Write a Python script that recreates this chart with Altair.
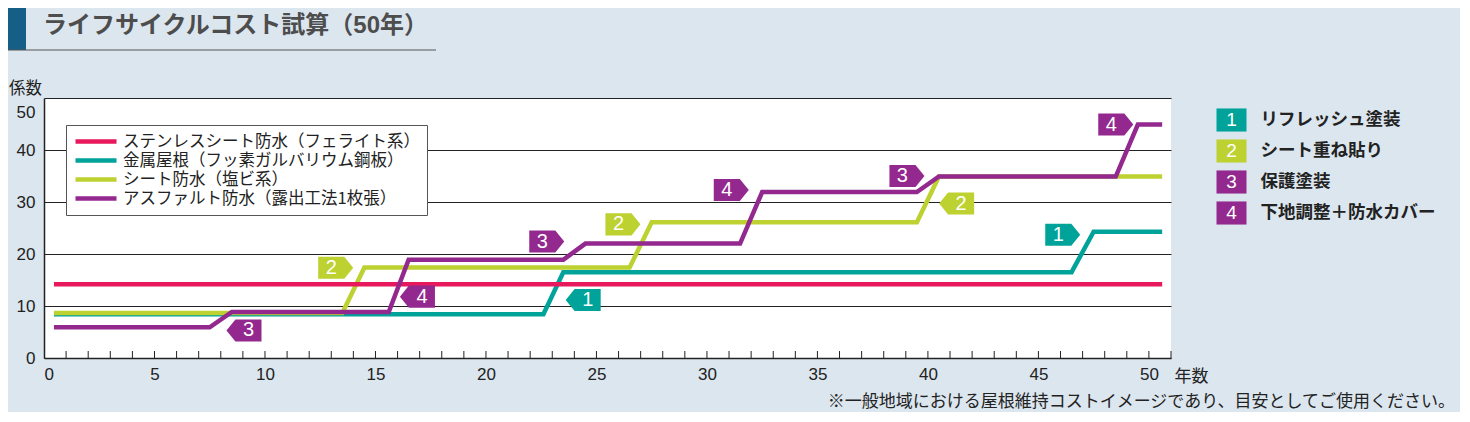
import altair as alt
import pandas as pd

FONT = "Liberation Sans, Noto Sans CJK JP, sans-serif"
JFONT = "Noto Sans CJK JP, sans-serif"

title_text = "ライフサイクルコスト試算（50年）"
y_title = "係数"
x_title = "年数"
footnote = "※一般地域における屋根維持コストイメージであり、目安としてご使用ください。"

series_names = [
    "ステンレスシート防水（フェライト系）",
    "金属屋根（フッ素ガルバリウム鋼板）",
    "シート防水（塩ビ系）",
    "アスファルト防水（露出工法1枚張）",
]
series_colors = ["#E8185D", "#00A39A", "#BDD130", "#93288F"]

# line vertices (year, coefficient)
stainless_x = [0.45, 50.6]
stainless_y = [14.2, 14.2]
metal_x = [0.45, 22.6, 23.5, 46.5, 47.5, 50.6]
metal_y = [8.4, 8.4, 16.5, 16.5, 24.3, 24.3]
sheet_x = [0.45, 13.5, 14.5, 26.5, 27.5, 39.5, 40.5, 50.6]
sheet_y = [8.65, 8.65, 17.4, 17.4, 26.1, 26.1, 34.9, 34.9]
asphalt_x = [0.45, 7.5, 8.5, 15.6, 16.5, 23.5, 24.5, 31.5, 32.5, 39.5, 40.5, 48.5, 49.5, 50.6]
asphalt_y = [5.9, 5.9, 8.85, 8.85, 18.9, 18.9, 22.0, 22.0, 31.9, 31.9, 34.9, 34.9, 44.9, 44.9]

# maintenance tags
tag_num = ["1", "1", "2", "2", "2", "3", "3", "3", "4", "4", "4"]
tag_x = [24.4, 46.1, 13.2, 26.2, 41.3, 9.05, 22.75, 39.05, 16.9, 31.1, 48.5]
tag_y = [11.15, 23.7, 17.35, 25.7, 29.7, 5.3, 22.4, 35.0, 11.8, 32.3, 44.9]
tag_dir = ["left", "right", "right", "right", "left", "left", "right", "right", "left", "right", "right"]

key_nums = ["1", "2", "3", "4"]
key_labels = ["リフレッシュ塗装", "シート重ね貼り", "保護塗装", "下地調整＋防水カバー"]
key_colors = ["#00A39A", "#BDD130", "#93288F", "#93288F"]

x_ticks = list(range(0, 51, 5))
y_ticks = list(range(0, 51, 10))
minor_years = list(range(1, 52))

# ---- data frames
rows = []
order = [(1, metal_x, metal_y), (2, sheet_x, sheet_y), (0, stainless_x, stainless_y), (3, asphalt_x, asphalt_y)]
for si, xs_, ys_ in order:
    for i, (a, b) in enumerate(zip(xs_, ys_)):
        rows.append({"series": series_names[si], "x": a, "y": b, "i": i})
lines_df = pd.DataFrame(rows)
tags_df = pd.DataFrame({"num": tag_num, "x": tag_x, "y": tag_y, "dir": tag_dir})
ticks_df = pd.DataFrame({"x": minor_years})
key_df = pd.DataFrame({"num": key_nums, "label": key_labels})

W, H = 1127, 260

xs = alt.Scale(domain=[0, 51], nice=False, zero=False)
ys = alt.Scale(domain=[0, 50], nice=False)
x_axis = alt.Axis(
    values=x_ticks, ticks=False, grid=False, labelFontSize=17, labelFont=FONT,
    labelColor="#222", labelPadding=8, domainColor="#222", domainWidth=1.5,
    title=x_title, titleX=1147, titleY=18, titleAlign="center", titleBaseline="middle",
    titleFontSize=17, titleFont=JFONT, titleFontWeight="normal", titleColor="#222",
    labelFlush=True,
)
y_axis = alt.Axis(
    values=y_ticks, ticks=False, grid=True, gridColor="#222", gridWidth=1,
    labelFontSize=17, labelFont=FONT, labelColor="#222", labelPadding=9,
    domainColor="#222", domainWidth=1.5,
    labelOffset={"condition": {"test": "datum.value == 50", "value": 14}, "value": 0},
    title=y_title, titleAngle=0, titleX=-19, titleY=-10, titleAlign="center",
    titleBaseline="middle", titleFontSize=16.5, titleFont=JFONT, titleFontWeight="normal",
    titleColor="#222",
)

def X(field="x"):
    return alt.X(f"{field}:Q", scale=xs, axis=x_axis)

def Y(field="y"):
    return alt.Y(f"{field}:Q", scale=ys, axis=y_axis)

fill_scale = alt.Scale(domain=key_nums, range=key_colors)

lines = alt.Chart(lines_df).mark_line(strokeWidth=4.5).encode(
    x=X(), y=Y(),
    color=alt.Color(
        "series:N",
        scale=alt.Scale(domain=series_names, range=series_colors),
        legend=alt.Legend(
            orient="none", legendX=22, legendY=27, title=None,
            fillColor="white", strokeColor="#555", padding=7,
            symbolType="M-1,0H4.86", symbolSize=196, symbolStrokeWidth=4.5,
            labelFontSize=16.5, labelFont=JFONT, labelColor="#222",
            labelLimit=0, rowPadding=0, labelOffset=31,
        ),
    ),
    order=alt.Order("i:Q"),
)

minor = alt.Chart(ticks_df).mark_rule(color="#222", strokeWidth=1).encode(
    x=X(), y=alt.value(H), y2=alt.value(H - 7)
)

path_r = "M-1,-0.63L0.49,-0.63L1,0L0.49,0.63L-1,0.63Z"
path_l = "M1,-0.63L-0.49,-0.63L-1,0L-0.49,0.63L1,0.63Z"

tags = alt.Chart(tags_df).mark_point(filled=True, opacity=1, strokeWidth=0, size=1225).encode(
    x=X(), y=Y(),
    fill=alt.Fill("num:N", scale=fill_scale, legend=None),
    shape=alt.Shape("dir:N", scale=alt.Scale(domain=["right", "left"], range=[path_r, path_l]), legend=None),
)
tag_txt_r = alt.Chart(tags_df).transform_filter(alt.datum.dir == "right").mark_text(
    color="white", fontSize=20, font=FONT, dx=-4.5, baseline="middle", align="center"
).encode(x=X(), y=Y(), text="num:N")
tag_txt_l = alt.Chart(tags_df).transform_filter(alt.datum.dir == "left").mark_text(
    color="white", fontSize=20, font=FONT, dx=4.5, baseline="middle", align="center"
).encode(x=X(), y=Y(), text="num:N")

dummy = pd.DataFrame({"t": [title_text]})
title_bar = alt.Chart(dummy).mark_rect(color="#155E85").encode(
    x=alt.value(-36), x2=alt.value(-18), y=alt.value(-91), y2=alt.value(-48)
)
title_line = alt.Chart(dummy).mark_rule(color="#555", strokeWidth=1.2).encode(
    x=alt.value(-36), x2=alt.value(392), y=alt.value(-48)
)
title_txt = alt.Chart(dummy).mark_text(
    align="left", baseline="middle", fontSize=24, fontWeight="bold", font=FONT, color="#4d4d4d"
).encode(x=alt.value(-1), y=alt.value(-72), text="t:N")

foot_txt = alt.Chart(pd.DataFrame({"t": [footnote]})).mark_text(
    align="right", baseline="middle", fontSize=17, font=JFONT, color="#222"
).encode(x=alt.value(1411), y=alt.value(304), text="t:N")

main = alt.layer(minor, lines, tags, tag_txt_r, tag_txt_l, title_bar, title_line, title_txt, foot_txt)

key_y = alt.Y("num:O", scale=alt.Scale(type="point", domain=key_nums, range=[22, 115], padding=0), axis=None)
key_sq = alt.Chart(key_df).mark_point(
    filled=True, opacity=1, strokeWidth=0, size=900, shape="M-1,-0.77H1V0.77H-1Z"
).encode(x=alt.value(1187.5), y=key_y, fill=alt.Fill("num:N", scale=fill_scale, legend=None))
key_n = alt.Chart(key_df).mark_text(
    color="white", fontSize=19, font=FONT, align="center", baseline="middle"
).encode(x=alt.value(1187.5), y=key_y, text="num:N")
key_l = alt.Chart(key_df).mark_text(
    color="#222", fontSize=17.5, font=JFONT, fontWeight="bold", align="left", baseline="middle"
).encode(x=alt.value(1216.5), y=key_y, text="label:N")
key = alt.layer(key_sq, key_n, key_l)

chart = alt.layer(main, key).resolve_scale(y="independent").properties(
    width=W, height=H,
    autosize=alt.AutoSizeParams(type="none"),
    padding={"left": 36, "top": 90, "right": 289, "bottom": 54},
    background="#DCE6EF",
).configure_view(fill="white", strokeWidth=0)

chart.save("out.html", embed_options={"renderer": "svg", "actions": False})
